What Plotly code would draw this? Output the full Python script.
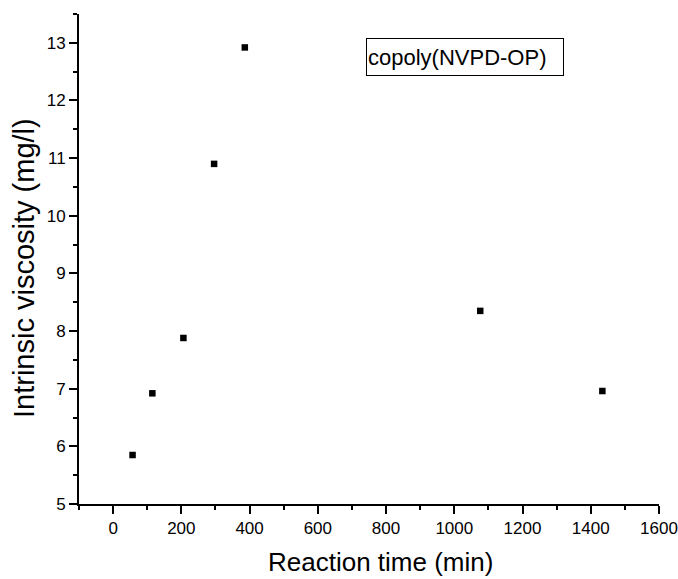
import plotly.graph_objects as go

reaction_time = [57, 115, 206, 296, 386, 1076, 1434]
intrinsic_viscosity = [5.85, 6.92, 7.88, 10.90, 12.92, 8.35, 6.96]
series_name = "copoly(NVPD-OP)"
x_title = "Reaction time (min)"
y_title = "Intrinsic viscosity (mg/l)"

W, H = 678, 579
L, R, T, B = 79, 659, 14, 504


def px(x):
    return (x - L) / (R - L)


def py(y):
    return 1 - (y - T) / (B - T)


fig = go.Figure()
fig.add_trace(go.Scatter(
    x=reaction_time, y=intrinsic_viscosity, mode="markers",
    marker=dict(symbol="square", size=6.5, color="black", line=dict(width=0)),
    name=series_name, showlegend=False,
))

font = "Liberation Sans, Arial, sans-serif"
axis_common = dict(
    showline=True, linecolor="black", linewidth=2,
    ticks="outside", ticklen=8, tickwidth=1.5, tickcolor="black",
    showgrid=False, zeroline=False, mirror=False, automargin=False,
    tickfont=dict(family=font, size=17, color="black"),
)
minor_common = dict(ticks="outside", ticklen=4, tickwidth=1.5, tickcolor="black")

fig.update_xaxes(
    range=[-100, 1600], tickmode="linear", tick0=0, dtick=200,
    minor=dict(dtick=100, tick0=0, **minor_common),
    ticklabeloverflow="allow",
    **axis_common,
)
fig.update_yaxes(
    range=[5, 13.5], tickmode="linear", tick0=5, dtick=1,
    minor=dict(dtick=0.5, tick0=5, **minor_common),
    **axis_common,
)

# axis titles
fig.add_annotation(
    xref="paper", yref="paper", x=px(380), y=py(579),
    xanchor="center", yanchor="bottom", showarrow=False,
    text=x_title, font=dict(family=font, size=26, color="black"),
)
fig.add_annotation(
    xref="paper", yref="paper", x=px(24), y=py(268),
    xanchor="center", yanchor="middle", showarrow=False, textangle=-90,
    text=y_title, font=dict(family=font, size=29, color="black"),
)

# legend box
fig.add_annotation(
    xref="paper", yref="paper", x=px(366), y=py(38),
    xanchor="left", yanchor="top", showarrow=False,
    text=series_name, font=dict(family=font, size=22, color="black"),
    bordercolor="black", borderwidth=1, borderpad=1, bgcolor="white",
    width=194, height=34, align="left", valign="middle",
)

fig.update_layout(
    width=W, height=H,
    margin=dict(l=L, r=W - R, t=T, b=H - B),
    paper_bgcolor="white", plot_bgcolor="white",
)

fig.write_html(
    "out.html",
    config={"displayModeBar": False},
    post_script="document.body.style.margin='0';document.body.style.overflow='hidden';",
)
